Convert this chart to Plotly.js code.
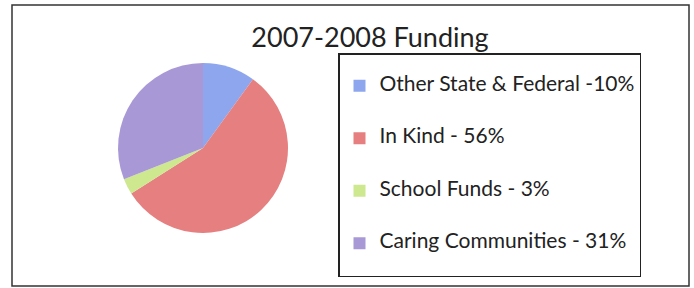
<!DOCTYPE html>
<html>
<head>
<meta charset="utf-8">
<script src="https://cdn.plot.ly/plotly-3.0.1.min.js"></script>
<style>html,body{margin:0;padding:0;background:#fff;}#chart{width:694px;height:288px;}</style>
</head>
<body>
<div id="chart"></div>
<script>
var labels = ["Other State & Federal -10%", "In Kind - 56%", "School Funds - 3%", "Caring Communities - 31%"];
var values = [10, 56, 3, 31];
var colors = ["#8ea6ee", "#e67f7f", "#cde88f", "#a898d6"];
var chartTitle = "2007-2008 Funding";

var legendLabels = labels.map(function (t) {
  return " <br><span style=\"font-size:21px\">" + t + "</span><br> ";
});

var W = 694, H = 288;
var data = [{
  type: "pie",
  labels: legendLabels,
  values: values,
  sort: false,
  direction: "clockwise",
  rotation: 0,
  textinfo: "none",
  hoverinfo: "none",
  marker: {colors: colors, line: {width: 0}},
  domain: {x: [118 / W, 288 / W], y: [(H - 233) / H, (H - 63) / H]}
}];

var layout = {
  width: W, height: H,
  margin: {l: 0, r: 0, t: 0, b: 0},
  paper_bgcolor: "#ffffff",
  font: {family: "Lato, 'Open Sans', sans-serif", color: "#222"},
  title: {text: chartTitle, font: {size: 27, family: "Lato, sans-serif", color: "#222"}, x: 370 / W, xanchor: "center", y: (H - 38) / H, yanchor: "middle"},
  showlegend: true,
  legend: {
    x: 338 / W, xanchor: "left",
    y: (H - 53) / H, yanchor: "top",
    bgcolor: "#ffffff",
    bordercolor: "#222",
    borderwidth: 1.5,
    font: {size: 12.7, family: "Lato, sans-serif", color: "#222"},
    valign: "middle",
    itemclick: false
  },
  shapes: [{
    type: "rect", xref: "paper", yref: "paper",
    x0: 12 / W, x1: 689 / W, y0: (H - 286) / H, y1: (H - 5) / H,
    line: {color: "#333", width: 1.5}, fillcolor: "rgba(0,0,0,0)", layer: "below"
  }]
};

Plotly.newPlot("chart", data, layout, {staticPlot: true, displayModeBar: false});
</script>
</body>
</html>
